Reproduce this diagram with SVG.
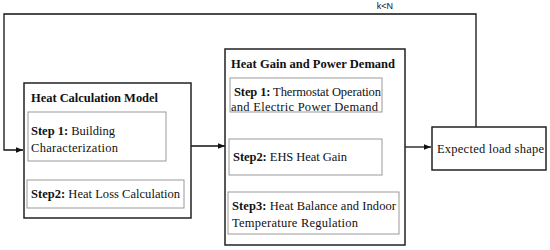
<svg xmlns="http://www.w3.org/2000/svg" width="550" height="250" viewBox="0 0 550 250">
<defs>
<marker id="ah" viewBox="0 0 10 10" refX="10" refY="5" markerWidth="9" markerHeight="7" markerUnits="userSpaceOnUse" orient="auto">
<path d="M0,1 L10,5 L0,9 z" fill="#111"/>
</marker>
<marker id="ahs" viewBox="0 0 10 10" refX="10" refY="5" markerWidth="6" markerHeight="7" markerUnits="userSpaceOnUse" orient="auto">
<path d="M0,1 L10,5 L0,9 z" fill="#222"/>
</marker>
<style>
.outer{fill:#fff;stroke:#222;stroke-width:1.5}
.inner{fill:#fff;stroke:#999;stroke-width:1}
.t{font-family:"Liberation Serif","Times New Roman",serif;font-size:12.5px;fill:#111}
.b{font-weight:bold}
.conn{fill:none;stroke:#111;stroke-width:1.3}
.sconn{fill:none;stroke:#333;stroke-width:0.8}
.lbl{font-family:"Liberation Sans",Arial,sans-serif;font-size:9px;fill:#111}
</style>
</defs>
<rect width="550" height="250" fill="#fff"/>
<g id="connectors">
<polyline class="conn" points="476,127 476,14 4,14 4,150 23,150" marker-end="url(#ah)"/>
<line class="conn" x1="191" y1="146" x2="225" y2="146" marker-end="url(#ah)"/>
<line class="conn" x1="405" y1="147" x2="431" y2="147" marker-end="url(#ah)"/>
<line class="sconn" x1="103" y1="161" x2="103" y2="179" marker-end="url(#ahs)"/>
<line class="sconn" x1="307" y1="112" x2="307" y2="138" marker-end="url(#ahs)"/>
<line class="sconn" x1="307" y1="175" x2="307" y2="191" marker-end="url(#ahs)"/>
<text class="lbl" x="385" y="9" text-anchor="middle">k&lt;N</text>
</g>
<g id="heat-calc-model">
<rect class="outer" x="24" y="83" width="167" height="135"/>
<text class="t b" x="31" y="102" textLength="127" lengthAdjust="spacing">Heat Calculation Model</text>
</g>
<g id="hc-step1">
<rect class="inner" x="28" y="112" width="138" height="49"/>
<text class="t" x="31" y="135" textLength="84" lengthAdjust="spacing"><tspan class="b">Step 1:</tspan> Building</text>
<text class="t" x="31" y="152" textLength="87" lengthAdjust="spacing">Characterization</text>
</g>
<g id="hc-step2">
<rect class="inner" x="27" y="180" width="157" height="28"/>
<text class="t" x="31" y="198" textLength="149" lengthAdjust="spacing"><tspan class="b">Step2:</tspan> Heat Loss Calculation</text>
</g>
<g id="heat-gain">
<rect class="outer" x="225" y="49" width="180" height="196"/>
<text class="t b" x="231" y="68" textLength="164" lengthAdjust="spacing">Heat Gain and Power Demand</text>
</g>
<g id="hg-step1">
<rect class="inner" x="230" y="78" width="152" height="34"/>
<text class="t" x="234" y="96" textLength="147" lengthAdjust="spacing"><tspan class="b">Step 1:</tspan> Thermostat Operation</text>
<text class="t" x="231" y="111" textLength="147" lengthAdjust="spacing">and Electric Power Demand</text>
</g>
<g id="hg-step2">
<rect class="inner" x="229" y="139" width="153" height="36"/>
<text class="t" x="233" y="161" textLength="114" lengthAdjust="spacing"><tspan class="b">Step2:</tspan> EHS Heat Gain</text>
</g>
<g id="hg-step3">
<rect class="inner" x="228" y="192" width="171" height="42"/>
<text class="t" x="232" y="210" textLength="164" lengthAdjust="spacing"><tspan class="b">Step3:</tspan> Heat Balance and Indoor</text>
<text class="t" x="232" y="227" textLength="126" lengthAdjust="spacing">Temperature Regulation</text>
</g>
<g id="expected">
<rect class="outer" x="432" y="127" width="114" height="43"/>
<text class="t" x="437" y="153" textLength="107" lengthAdjust="spacing">Expected load shape</text>
</g>
</svg>
